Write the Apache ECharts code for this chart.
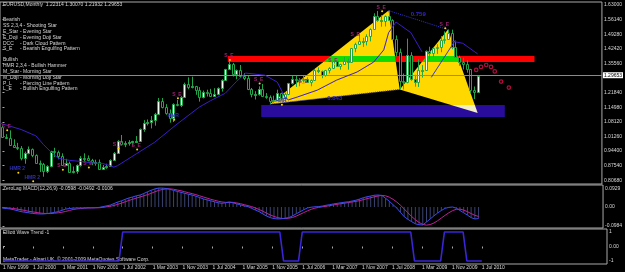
<!DOCTYPE html>
<html><head><meta charset="utf-8">
<script src="https://cdn.jsdelivr.net/npm/echarts@6/dist/echarts.min.js"></script>
<style>html,body{margin:0;padding:0;background:#000}#c{width:625px;height:272px}</style>
</head><body><div id="c"></div>
<script>
// ---------- DATA (x = months since Nov 1999) ----------
const xTickMonths = [0,8,16,24,32,40,48,56,64,72,80,88,96,104,112,120,128];
const xTickLabels = ['1 Nov 1999','1 Jul 2000','1 Mar 2001','1 Nov 2001','1 Jul 2002','1 Mar 2003','1 Nov 2003','1 Jul 2004','1 Mar 2005','1 Nov 2005','1 Jul 2006','1 Mar 2007','1 Nov 2007','1 Jul 2008','1 Mar 2009','1 Nov 2009','1 Jul 2010'];
const priceTicks = [1.63,1.5614,1.4928,1.4242,1.3556,1.2184,1.1498,1.0812,1.0126,0.944,0.8754,0.8068];
const priceTickLabels = ['1.63000','1.56140','1.49280','1.42420','1.35560','1.21840','1.14980','1.08120','1.01260','0.94400','0.87540','0.80680'];
const macdTicks = [0.0929,0,-0.0984];
const macdTickLabels = ['0.0929','0.00','-0.0984'];
const ewTicks = [1,0,-1];
const ewTickLabels = ['1','0.00','-1'];
const currentPrice = 1.29653;

// monthly [open, high, low, close]
const candles = [
[1.0550,1.0620,1.0050,1.0080],[1.0080,1.0230,1.0000,1.0070],
[1.0070,1.0410,0.9700,0.9710],[0.9710,0.9990,0.9610,0.9650],[0.9650,0.9820,0.9490,0.9570],[0.9570,0.9670,0.9000,0.9130],[0.9130,0.9410,0.8840,0.9330],[0.9330,0.9650,0.9280,0.9520],[0.9520,0.9560,0.9150,0.9240],[0.9240,0.9280,0.8850,0.8870],[0.8870,0.8990,0.8450,0.8830],[0.8830,0.8880,0.8230,0.8500],[0.8500,0.8770,0.8400,0.8730],[0.8730,0.9450,0.8670,0.9420],
[0.9420,0.9590,0.9160,0.9380],[0.9380,0.9460,0.9050,0.9210],[0.9210,0.9330,0.8730,0.8790],[0.8790,0.9070,0.8770,0.8870],[0.8870,0.8940,0.8450,0.8470],[0.8470,0.8710,0.8380,0.8480],[0.8480,0.8810,0.8370,0.8760],[0.8760,0.9200,0.8700,0.9120],[0.9120,0.9330,0.8940,0.9110],[0.9110,0.9230,0.8950,0.9000],[0.9000,0.9070,0.8770,0.8900],[0.8900,0.9030,0.8750,0.8900],
[0.8900,0.9040,0.8580,0.8610],[0.8610,0.8780,0.8570,0.8690],[0.8690,0.8840,0.8600,0.8720],[0.8720,0.9050,0.8700,0.9020],[0.9020,0.9390,0.9000,0.9330],[0.9330,0.9950,0.9310,0.9910],[0.9910,1.0190,0.9700,0.9780],[0.9780,0.9900,0.9620,0.9800],[0.9800,0.9950,0.9690,0.9870],[0.9870,0.9920,0.9690,0.9890],[0.9890,1.0140,0.9860,0.9930],[0.9930,1.0500,0.9870,1.0490],
[1.0490,1.0890,1.0340,1.0740],[1.0740,1.0920,1.0640,1.0780],[1.0780,1.1080,1.0500,1.0900],[1.0900,1.1230,1.0630,1.1180],[1.1180,1.1930,1.1160,1.1790],[1.1790,1.1930,1.1440,1.1490],[1.1490,1.1640,1.1140,1.1240],[1.1240,1.1390,1.0770,1.1000],[1.1000,1.1680,1.0800,1.1650],[1.1650,1.1840,1.1540,1.1580],[1.1580,1.2020,1.1500,1.1990],[1.1990,1.2650,1.1960,1.2590],
[1.2590,1.2900,1.2340,1.2450],[1.2450,1.2930,1.2380,1.2470],[1.2470,1.2500,1.2080,1.2310],[1.2310,1.2440,1.1760,1.1970],[1.1970,1.2280,1.1910,1.2200],[1.2200,1.2320,1.2000,1.2180],[1.2180,1.2360,1.2000,1.2030],[1.2030,1.2390,1.2000,1.2140],[1.2140,1.2430,1.2060,1.2420],[1.2420,1.2810,1.2230,1.2760],[1.2760,1.3300,1.2740,1.3290],[1.3290,1.3670,1.3240,1.3550],
[1.3550,1.3580,1.2940,1.3050],[1.3050,1.3270,1.2810,1.3240],[1.3240,1.3480,1.2870,1.2960],[1.2960,1.3100,1.2770,1.2870],[1.2870,1.2970,1.2300,1.2340],[1.2340,1.2400,1.1960,1.2100],[1.2100,1.2250,1.1860,1.2120],[1.2120,1.2480,1.2040,1.2340],[1.2340,1.2590,1.1990,1.2030],[1.2030,1.2160,1.1890,1.1990],[1.1990,1.2050,1.1640,1.1790],[1.1790,1.2040,1.1710,1.1840],
[1.1840,1.2320,1.1790,1.2150],[1.2150,1.2180,1.1840,1.1920],[1.1920,1.2190,1.1860,1.2120],[1.2120,1.2640,1.2060,1.2620],[1.2620,1.2980,1.2560,1.2830],[1.2830,1.2980,1.2450,1.2790],[1.2790,1.2860,1.2480,1.2760],[1.2760,1.2990,1.2660,1.2810],[1.2810,1.2900,1.2650,1.2680],[1.2680,1.2800,1.2480,1.2760],[1.2760,1.3290,1.2730,1.3260],[1.3260,1.3370,1.3100,1.3200],
[1.3200,1.3220,1.2860,1.3020],[1.3020,1.3250,1.2930,1.3230],[1.3230,1.3380,1.3080,1.3360],[1.3360,1.3680,1.3320,1.3660],[1.3660,1.3680,1.3410,1.3450],[1.3450,1.3540,1.3260,1.3540],[1.3540,1.3850,1.3480,1.3680],[1.3680,1.3780,1.3260,1.3640],[1.3640,1.4280,1.3610,1.4270],[1.4270,1.4530,1.4080,1.4480],[1.4480,1.4970,1.4440,1.4630],[1.4630,1.4760,1.4330,1.4590],
[1.4590,1.4920,1.4400,1.4860],[1.4860,1.5200,1.4590,1.5190],[1.5190,1.5910,1.5130,1.5790],[1.5790,1.6020,1.5510,1.5610],[1.5610,1.5820,1.5280,1.5530],[1.5530,1.5810,1.5290,1.5770],[1.5770,1.6040,1.5540,1.5600],[1.5600,1.5630,1.4660,1.4680],[1.4680,1.4870,1.3880,1.4080],[1.4080,1.4250,1.2330,1.2720],[1.2720,1.3080,1.2330,1.2700],[1.2700,1.4720,1.2620,1.3970],
[1.3970,1.4080,1.2740,1.2800],[1.2800,1.3020,1.2460,1.2680],[1.2680,1.3740,1.2450,1.3250],[1.3250,1.3480,1.2890,1.3240],[1.3240,1.4170,1.3210,1.4160],[1.4160,1.4340,1.3750,1.4030],[1.4030,1.4300,1.3850,1.4260],[1.4260,1.4450,1.4000,1.4310],[1.4310,1.4840,1.4080,1.4640],[1.4640,1.5060,1.4480,1.4720],[1.4720,1.5150,1.4700,1.5000],[1.5000,1.5140,1.4220,1.4330],
[1.4330,1.4580,1.3860,1.3870],[1.3870,1.3920,1.3440,1.3630],[1.3630,1.3820,1.3270,1.3510],[1.3510,1.3700,1.3120,1.3290],[1.3290,1.3300,1.2140,1.2290],[1.2290,1.2470,1.1880,1.2230],[1.2231,1.3007,1.2193,1.2965]
];

// moving average line [month, price]
const maPoints = [[-0.7,1.075],[5,1.045],[9,1.015],[11,0.975],[13,0.94],[15,0.91],[18,0.90],[21,0.895],[24,0.888],[27,0.885],[29,0.875],[30,0.868],[31,0.875],[36,0.93],[41,0.985],[47,1.07],[53,1.15],[56,1.18],[60,1.215],[63,1.27],[65.5,1.31],[70.7,1.30],[74,1.268],[76,1.20],[77,1.184],[79.5,1.198],[84.8,1.23],[90,1.277],[95.5,1.315],[100,1.362],[102.7,1.419],[104,1.50],[106,1.55],[110,1.50],[113,1.41]];
const maPoints2 = [[121,1.46],[124,1.45],[128,1.40]];
const zupLine = [[115.5,1.29],[122,1.465]];

// ZeroLag MACD(12,26,9)
const macdVals = [-0.006,-0.008,-0.010,-0.014,-0.019,-0.024,-0.027,-0.030,-0.033,-0.035,-0.036,-0.036,-0.034,-0.031,-0.028,-0.024,-0.017,-0.011,-0.008,-0.006,-0.005,-0.005,-0.005,-0.004,-0.004,-0.004,-0.002,0.002,0.006,0.010,0.018,0.026,0.032,0.040,0.047,0.052,0.058,0.062,0.070,0.079,0.087,0.094,0.098,0.098,0.096,0.092,0.086,0.081,0.076,0.071,0.066,0.062,0.056,0.049,0.042,0.037,0.032,0.027,0.022,0.019,0.022,0.026,0.022,0.016,0.011,0.006,0.002,-0.007,-0.016,-0.024,-0.036,-0.047,-0.055,-0.060,-0.062,-0.061,-0.058,-0.055,-0.046,-0.035,-0.025,-0.014,-0.005,-0.001,0.001,0.002,0.005,0.009,0.012,0.016,0.019,0.022,0.025,0.027,0.031,0.035,0.041,0.048,0.053,0.057,0.061,0.062,0.060,0.045,0.030,0.012,-0.005,-0.028,-0.050,-0.064,-0.076,-0.087,-0.092,-0.093,-0.078,-0.062,-0.046,-0.031,-0.018,-0.007,-0.002,0.000,-0.006,-0.018,-0.030,-0.042,-0.055,-0.062,-0.060];
const signalVals = [-0.002,-0.004,-0.006,-0.008,-0.011,-0.014,-0.018,-0.022,-0.025,-0.028,-0.031,-0.033,-0.034,-0.034,-0.032,-0.030,-0.027,-0.023,-0.018,-0.013,-0.010,-0.008,-0.006,-0.005,-0.005,-0.004,-0.004,-0.002,0.001,0.004,0.008,0.014,0.020,0.027,0.034,0.040,0.046,0.052,0.058,0.064,0.071,0.079,0.086,0.091,0.094,0.094,0.092,0.088,0.084,0.079,0.074,0.069,0.064,0.058,0.052,0.046,0.040,0.035,0.030,0.026,0.024,0.024,0.024,0.021,0.017,0.012,0.007,0.002,-0.005,-0.013,-0.022,-0.032,-0.041,-0.049,-0.055,-0.059,-0.060,-0.058,-0.054,-0.047,-0.038,-0.029,-0.020,-0.012,-0.006,-0.002,0.001,0.004,0.007,0.011,0.014,0.017,0.020,0.023,0.026,0.029,0.033,0.038,0.043,0.048,0.053,0.057,0.060,0.058,0.051,0.040,0.026,0.009,-0.010,-0.030,-0.049,-0.066,-0.080,-0.090,-0.094,-0.091,-0.083,-0.071,-0.057,-0.043,-0.030,-0.019,-0.012,-0.011,-0.016,-0.024,-0.034,-0.043,-0.049];

// Elliott Wave Trend (turning points)
const ewPoints = [[0,-1],[31,-1],[32,1],[74,1],[75,-1],[79,-1],[80,1],[109,1],[110,-1],[117,-1],[118,1],[123,1],[124,-1],[128,-1]];

// harmonic pattern points [month, price]
const ptX = [72,1.164], ptA = [104,1.6038], ptB = [107,1.233], ptC = [120,1.5144], ptD = [128,1.122];
const redZone = [60.7,143.3,1.362,1.390];   // [from, to, low, high]
const blueZone = [69.7,135.3,1.104,1.160];
const ratioLabels = [[89.5,1.19,'0.843'],[112,1.585,'0.759']];
// projected path marks (red) [month, price]
const projMarks = [[127.6,1.325],[128.9,1.339],[130.3,1.348],[131.6,1.339],[132.6,1.318],[134.3,1.27],[136.4,1.242]];
// candle pattern tags [month, price, tag]
const candleTags = [[1,1.06,'S_E'],[4,0.86,'HMR 2'],[8,0.82,'HMR 2'],[16,0.875,'S_E'],[23,0.885,'S_E'],[31,0.975,'S_E'],[36,0.97,'S_E'],[46,1.11,'HMR'],[47,1.21,'S_E'],[61,1.39,'S_E'],[69,1.28,'S_E'],[75,1.18,'HMR'],[81,1.27,'S_E'],[89,1.37,'S_E'],[95,1.49,'S_E'],[102,1.62,'S_E'],[119,1.54,'S_E']];

// ---------- CHART ----------
const X_MIN = -0.6667, X_MAX = 161.467;
const FONT = 'Liberation Sans';
const txt = '#d8d8d8';
const chart = echarts.init(document.getElementById('c'), null, {renderer:'canvas', width:625, height:272});
const lookup = (vals, labs) => v => { let i = vals.findIndex(t => Math.abs(t - v) < 1e-6); return i < 0 ? '' : labs[i]; };
const hiddenX = g => ({gridIndex:g, type:'value', min:X_MIN, max:X_MAX, show:false});
const yAx = (g, min, max, ticks, labs) => ({gridIndex:g, type:'value', position:'right', min, max,
  splitLine:{show:false}, axisLine:{show:false},
  axisTick:{show:true, customValues:ticks, length:2, lineStyle:{color:'#a8a8a8'}},
  axisLabel:{customValues:ticks, formatter:lookup(ticks, labs), fontSize:5, fontFamily:FONT, color:txt, margin:2}});

// Sutherland-Hodgman clip of a polygon against an axis-aligned rectangle (pixel space)
function clipPoly(poly, x0, x1, y0, y1) {
  const edges = [
    [p => p[0] >= x0, (a,b) => [x0, a[1] + (b[1]-a[1])*(x0-a[0])/(b[0]-a[0])]],
    [p => p[0] <= x1, (a,b) => [x1, a[1] + (b[1]-a[1])*(x1-a[0])/(b[0]-a[0])]],
    [p => p[1] >= y0, (a,b) => [a[0] + (b[0]-a[0])*(y0-a[1])/(b[1]-a[1]), y0]],
    [p => p[1] <= y1, (a,b) => [a[0] + (b[0]-a[0])*(y1-a[1])/(b[1]-a[1]), y1]]
  ];
  let out = poly;
  for (const [inside, inter] of edges) {
    const inp = out; out = [];
    for (let i = 0; i < inp.length; i++) {
      const cur = inp[i], prev = inp[(i + inp.length - 1) % inp.length];
      if (inside(cur)) { if (!inside(prev)) out.push(inter(prev, cur)); out.push(cur); }
      else if (inside(prev)) out.push(inter(prev, cur));
    }
    if (!out.length) break;
  }
  return out;
}
const triangles = [[ptX, ptA, ptB], [ptB, ptC, ptD]];

const green = '#20a848';
const option = {
  backgroundColor:'#000',
  animation:false,
  grid:[
    {left:-1, top:2, width:608, height:182, show:true, borderColor:'#a8a8a8', borderWidth:1},
    {left:-1, top:185, width:608, height:43, show:true, borderColor:'#a8a8a8', borderWidth:1},
    {left:-1, top:229, width:608, height:35, show:true, borderColor:'#a8a8a8', borderWidth:1}
  ],
  xAxis:[hiddenX(0), hiddenX(1), {gridIndex:2, type:'value', min:X_MIN, max:X_MAX,
    splitLine:{show:false}, axisLine:{show:false},
    axisTick:{show:true, customValues:xTickMonths, length:2, lineStyle:{color:'#a8a8a8'}},
    axisLabel:{customValues:xTickMonths, formatter:lookup(xTickMonths, xTickLabels), align:'left', margin:1, fontSize:5, fontFamily:FONT, color:txt}}],
  yAxis:[
    yAx(0, 0.7888, 1.6441, priceTicks, priceTickLabels),
    yAx(1, -0.1088, 0.114, macdTicks, macdTickLabels),
    yAx(2, -1.207, 1.207, ewTicks, ewTickLabels)
  ],
  graphic:[
    {type:'text', left:3, top:2.5, style:{text:'EURUSD,Monthly  1.22314 1.30070 1.21932 1.29653', fill:txt, font:'5px "'+FONT+'"'}},
    ...[['Bearish',''],['SS 2,3,4 - Shooting Star',''],['E_Star','- Evening Star'],['E_Doji','- Evening Doji Star'],['DCC','- Dark Cloud Pattern'],['S_E','- Bearish Engulfing Pattern']].flatMap((r,i)=>[
      {type:'text', left:3, top:17.5+i*5.8, style:{text:r[0], fill:txt, font:'5px "'+FONT+'"'}},
      {type:'text', left:20, top:17.5+i*5.8, style:{text:r[1], fill:txt, font:'5px "'+FONT+'"'}}]),
    ...[['Bullish',''],['HMR 2,3,4 - Bullish Hammer',''],['M_Star','- Morning Star'],['M_Doji','- Morning Doji Star'],['P_L','- Piercing Line Pattern'],['L_E','- Bullish Engulfing Pattern']].flatMap((r,i)=>[
      {type:'text', left:3, top:57.5+i*5.8, style:{text:r[0], fill:txt, font:'5px "'+FONT+'"'}},
      {type:'text', left:20, top:57.5+i*5.8, style:{text:r[1], fill:txt, font:'5px "'+FONT+'"'}}]),
    {type:'text', left:3, top:186.5, style:{text:'ZeroLag MACD(12,26,9) -0.0598 -0.0492 -0.0106', fill:txt, font:'5px "'+FONT+'"'}},
    {type:'text', left:3, top:230.5, style:{text:'Elliott Wave Trend -1', fill:txt, font:'5px "'+FONT+'"'}},
    {type:'text', left:3, top:257.5, style:{text:'MetaTrader - Alpari UK, \u00a9 2001-2009 MetaQuotes Software Corp.', fill:txt, font:'5px "'+FONT+'"'}}
  ],
  series:[
    // current price line
    {type:'line', xAxisIndex:0, yAxisIndex:0, data:[], z:1, silent:true,
     markLine:{symbol:'none', silent:true, lineStyle:{color:'#8a8a8a', width:1, type:'solid'},
       label:{position:'end', distance:1, formatter:currentPrice.toFixed(5), color:'#000', backgroundColor:'#fff', fontSize:5, fontFamily:FONT, padding:[1,1,0,1]},
       data:[{yAxis:currentPrice}]}},
    // pattern triangles
    {type:'custom', xAxisIndex:0, yAxisIndex:0, z:2, silent:true, clip:true,
     data:triangles.map(t => [...t[0], ...t[1], ...t[2]]),
     renderItem:(p, api) => ({type:'polygon', shape:{points:[api.coord([api.value(0),api.value(1)]),api.coord([api.value(2),api.value(3)]),api.coord([api.value(4),api.value(5)])]}, style:{fill:'#ffd800'}})},
    // zones, with XOR-coloured overlap where they cross the triangles
    {type:'custom', xAxisIndex:0, yAxisIndex:0, z:3, silent:true, clip:true,
     data:[redZone, blueZone],
     renderItem:(p, api) => {
       const a = api.coord([api.value(0),api.value(3)]), b = api.coord([api.value(1),api.value(2)]);
       const children = [{type:'rect', shape:{x:a[0], y:a[1], width:b[0]-a[0], height:b[1]-a[1]}, style:{fill: p.dataIndex===0 ? '#ff0000' : '#2a0c9c'}}];
       triangles.forEach(t => {
         const poly = clipPoly(t.map(q => api.coord(q)), a[0], b[0], a[1], b[1]);
         if (poly.length > 2) children.push({type:'polygon', shape:{points:poly}, style:{fill: p.dataIndex===0 ? '#10dc00' : '#f2eec4'}});
       });
       return {type:'group', children};
     }},
    // candles
    {type:'custom', xAxisIndex:0, yAxisIndex:0, z:4, silent:true, clip:true,
     data:candles.map((r,i)=>[i, r[0], r[1], r[2], r[3]]),
     encode:{x:0, y:[1,2,3,4]},
     renderItem:(p, api) => {
       const m = api.value(0), o = api.value(1), h = api.value(2), l = api.value(3), c = api.value(4);
       const pO = api.coord([m,o]), pC = api.coord([m,c]), pH = api.coord([m,h]), pL = api.coord([m,l]);
       const x = Math.round(pO[0]) + 0.5;
       const top = Math.round(Math.min(pO[1],pC[1])) + 0.5, bot = Math.round(Math.max(pO[1],pC[1])) + 0.5;
       return {type:'group', children:[
         {type:'line', shape:{x1:x, y1:pH[1], x2:x, y2:pL[1]}, style:{stroke:green, lineWidth:1}},
         {type:'rect', shape:{x:x-1, y:top, width:2, height:Math.max(bot-top,1)}, style:{fill: c>=o ? '#f4fff4' : '#000', stroke:green, lineWidth:1}}
       ]};
     }},
    // moving average
    {type:'line', xAxisIndex:0, yAxisIndex:0, z:5, data:maPoints, symbol:'none', lineStyle:{color:'#3c1cc8', width:1}},
    {type:'line', xAxisIndex:0, yAxisIndex:0, z:5, data:maPoints2, symbol:'none', lineStyle:{color:'#3c1cc8', width:1}},
    {type:'line', xAxisIndex:0, yAxisIndex:0, z:5, data:zupLine, symbol:'none', lineStyle:{color:'#2f3ce0', width:1}},
    // pattern dotted lines
    {type:'line', xAxisIndex:0, yAxisIndex:0, z:5, data:[ptX, ptB], symbol:'none', lineStyle:{color:'#3030d0', width:1, type:'dotted'}},
    {type:'line', xAxisIndex:0, yAxisIndex:0, z:5, data:[ptA, ptC], symbol:'none', lineStyle:{color:'#3030d0', width:1, type:'dotted'}},
    {type:'custom', xAxisIndex:0, yAxisIndex:0, z:6, silent:true, data:ratioLabels,
     renderItem:(p, api) => { const q = api.coord([api.value(0), api.value(1)]);
       return {type:'text', x:q[0], y:q[1], style:{text:ratioLabels[p.dataIndex][2], fill:'#3428c8', font:'bold 6px "'+FONT+'"', align:'center', verticalAlign:'middle'}}; }},
    // candle pattern tags
    {type:'custom', xAxisIndex:0, yAxisIndex:0, z:6, silent:true, clip:true, data:candleTags,
     renderItem:(p, api) => { const q = api.coord([api.value(0), api.value(1)]); const tag = candleTags[p.dataIndex][2];
       return {type:'group', children:[
         {type:'circle', shape:{cx:q[0]+1, cy:q[1]+4, r:1}, style:{fill:'#ffd800'}},
         {type:'text', x:q[0], y:q[1], style:{text:tag, fill: tag.startsWith('HMR') ? '#3030b0' : '#9a2070', font:'bold 5px "'+FONT+'"', align:'center', verticalAlign:'middle'}}]}; }},
    // projected path marks
    {type:'scatter', xAxisIndex:0, yAxisIndex:0, z:6, silent:true, data:projMarks, symbol:'circle', symbolSize:3.5,
     itemStyle:{color:'#000', borderColor:'#e01050', borderWidth:1.2}},
    // MACD
    {type:'bar', xAxisIndex:1, yAxisIndex:1, z:2, data:macdVals.map((v,i)=>[i,v]), barWidth:1, itemStyle:{color:'#3a4470'}},
    {type:'line', xAxisIndex:1, yAxisIndex:1, z:3, data:signalVals.map((v,i)=>[i,v]), symbol:'none', lineStyle:{color:'#c0209a', width:1}},
    {type:'line', xAxisIndex:1, yAxisIndex:1, z:4, data:macdVals.map((v,i)=>[i,v]), symbol:'none', lineStyle:{color:'#3a4cf0', width:1}},
    // Elliott
    {type:'line', xAxisIndex:2, yAxisIndex:2, data:ewPoints, symbol:'none', lineStyle:{color:'#3a26d8', width:1.6}}
  ]
};
chart.setOption(option);
</script></body></html>
